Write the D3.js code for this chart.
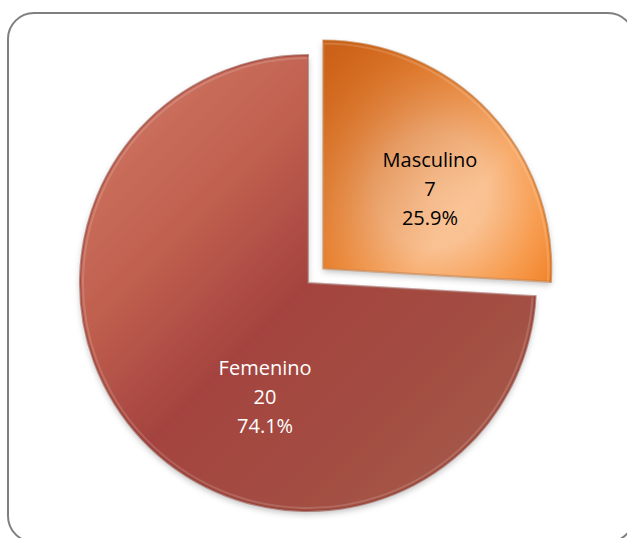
<!DOCTYPE html>
<html>
<head>
<meta charset="utf-8">
<script src="https://cdn.jsdelivr.net/npm/d3@7"></script>
<style>
  html, body { margin: 0; padding: 0; background: #ffffff; }
  svg { display: block; }
</style>
</head>
<body>
<div id="chart"></div>
<script>
// data
var categories = ["Masculino", "Femenino"];
var counts = [7, 20];
var percentLabels = ["25.9%", "74.1%"];

var width = 627, height = 538;
var cx = 308, cy = 283, radius = 228;
var explode = 21;

var svg = d3.select("#chart")
  .append("svg")
  .attr("width", width)
  .attr("height", height);

var defs = svg.append("defs");

// Femenino gradient
var gFem = defs.append("linearGradient")
  .attr("id", "grad-fem")
  .attr("x1", "0%").attr("y1", "0%")
  .attr("x2", "100%").attr("y2", "100%");
gFem.append("stop").attr("offset", "0%").attr("stop-color", "#d47c68");
gFem.append("stop").attr("offset", "30%").attr("stop-color", "#c0604f");
gFem.append("stop").attr("offset", "50%").attr("stop-color", "#a4433f");
gFem.append("stop").attr("offset", "75%").attr("stop-color", "#a34f43");
gFem.append("stop").attr("offset", "100%").attr("stop-color", "#a85e4b");

// Masculino gradient
var gMas = defs.append("radialGradient")
  .attr("id", "grad-mas")
  .attr("cx", "48%").attr("cy", "62%")
  .attr("r", "70%");
gMas.append("stop").attr("offset", "0%").attr("stop-color", "#fccaa0");
gMas.append("stop").attr("offset", "35%").attr("stop-color", "#f9c090");
gMas.append("stop").attr("offset", "70%").attr("stop-color", "#f79a4c");
gMas.append("stop").attr("offset", "100%").attr("stop-color", "#ee7a1c");

var gMasTop = defs.append("linearGradient")
  .attr("id", "grad-mas-top")
  .attr("x1", "0%").attr("y1", "0%")
  .attr("x2", "70%").attr("y2", "60%");
gMasTop.append("stop").attr("offset", "0%").attr("stop-color", "#c55e18").attr("stop-opacity", 0.9);
gMasTop.append("stop").attr("offset", "100%").attr("stop-color", "#c8601a").attr("stop-opacity", 0);

var shadow = defs.append("filter")
  .attr("id", "shadow")
  .attr("x", "-10%").attr("y", "-10%")
  .attr("width", "120%").attr("height", "125%");
shadow.append("feDropShadow")
  .attr("dx", 0).attr("dy", 3)
  .attr("stdDeviation", 3)
  .attr("flood-color", "#000000")
  .attr("flood-opacity", 0.25);

// frame
svg.append("rect")
  .attr("x", 8)
  .attr("y", 13)
  .attr("width", 626)
  .attr("height", 529)
  .attr("rx", 26)
  .attr("fill", "#ffffff")
  .attr("stroke", "#7f7f7f")
  .attr("stroke-width", 2);

var pie = d3.pie()
  .sort(null)
  .value(d => d)
  .startAngle(0)
  .endAngle(2 * Math.PI);

var arcs = pie(counts);

var arc = d3.arc()
  .innerRadius(0)
  .outerRadius(radius);

var fills = ["url(#grad-mas)", "url(#grad-fem)"];
var textColors = ["#000000", "#ffffff"];
// label angle (degrees from top, clockwise) and distance from slice point
var labelAngle = [55.8, 199.6];
var labelDist = [129, 128];

var offsetOf = function(d, i) {
  if (i !== 0) return [0, 0];
  var a = (d.startAngle + d.endAngle) / 2;
  return [Math.sin(a) * explode, -Math.cos(a) * explode];
};

var slices = svg.selectAll(".slice")
  .data(arcs)
  .enter()
  .append("g")
  .attr("class", "slice")
  .attr("transform", (d, i) => {
    var o = offsetOf(d, i);
    return `translate(${cx + o[0]},${cy + o[1]})`;
  });

slices.append("path")
  .attr("d", arc)
  .attr("fill", (d, i) => fills[i])
  .attr("filter", "url(#shadow)");

// darker top-left wash on Masculino
slices.filter((d, i) => i === 0)
  .append("path")
  .attr("d", arc)
  .attr("fill", "url(#grad-mas-top)");

// bevel edge
slices.append("path")
  .attr("d", arc)
  .attr("fill", "none")
  .attr("stroke", (d, i) => i === 0 ? "#b9651f" : "#8c3a31")
  .attr("stroke-opacity", 0.55)
  .attr("stroke-width", 2);

slices.append("path")
  .attr("d", d3.arc().innerRadius(0).outerRadius(radius - 3))
  .attr("fill", "none")
  .attr("stroke", "#ffffff")
  .attr("stroke-opacity", 0.15)
  .attr("stroke-width", 2);

// labels
var labels = slices.append("text")
  .attr("text-anchor", "middle")
  .attr("font-family", "'Open Sans', sans-serif")
  .attr("font-size", "20px")
  .attr("fill", (d, i) => textColors[i])
  .attr("transform", (d, i) => {
    var a = labelAngle[i] * Math.PI / 180;
    return `translate(${Math.sin(a) * labelDist[i]},${-Math.cos(a) * labelDist[i]})`;
  });

labels.each(function(d, i) {
  var t = d3.select(this);
  var lines = [categories[i], String(counts[i]), percentLabels[i]];
  lines.forEach((s, k) => {
    t.append("tspan")
      .attr("x", 0)
      .attr("y", (k - 1) * 29)
      .text(s);
  });
});
</script>
</body>
</html>
